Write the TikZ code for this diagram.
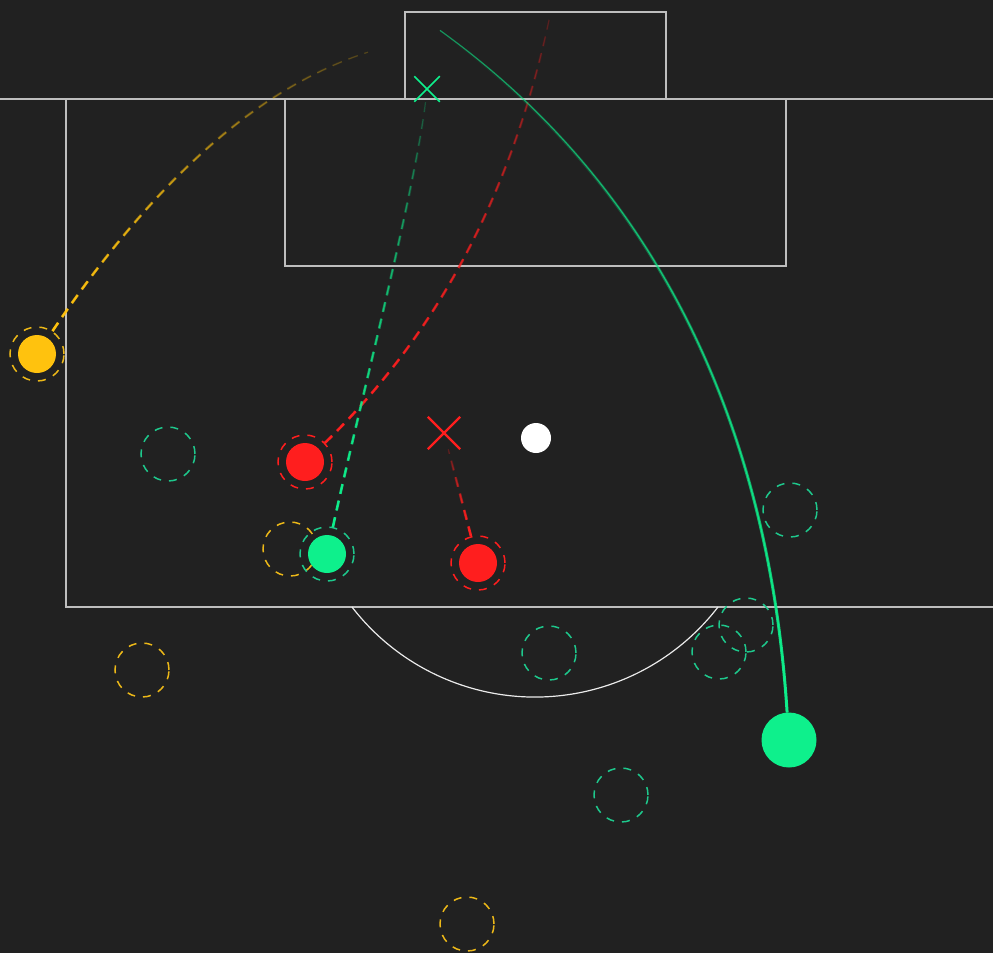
\documentclass[tikz,border=0pt]{standalone}
\usepackage{xcolor}
\usetikzlibrary{shapes.misc,fadings}
\definecolor{pitchbg}{RGB}{33,33,33}
\definecolor{pitchln}{RGB}{190,190,190}
\definecolor{grnc}{RGB}{14,240,140}
\definecolor{grnring}{RGB}{30,200,140}
\definecolor{redc}{RGB}{255,30,30}
\definecolor{ylwc}{RGB}{255,194,14}
\definecolor{ylwring}{RGB}{236,184,24}
\tikzfading[name=trailfade, top color=transparent!78,
  middle color=transparent!10, bottom color=transparent!0]
\tikzfading[name=taperfade, top color=transparent!100,
  middle color=transparent!45, bottom color=transparent!0]
\tikzfading[name=shotfade, top color=transparent!45,
  middle color=transparent!5, bottom color=transparent!0]
\tikzset{
  pitch/.style  ={draw=pitchln, line width=1.5pt},
  player/.style ={circle, inner sep=0pt, minimum size=38pt},
  ring/.style   ={circle, draw, inner sep=0pt, minimum size=54pt,
                  line width=1.5pt, dash pattern=on 8pt off 8pt},
  xmark/.style  ={cross out, draw, inner sep=0pt, minimum size=30pt,
                  line width=2.4pt},
  trail/.style  ={draw, line width=1.2pt, dash pattern=on 10pt off 7pt,
                  path fading=trailfade,
                  postaction={draw, line width=2.6pt, path fading=taperfade}},
  shot/.style   ={draw, line width=1.2pt, path fading=shotfade,
                  postaction={draw, line width=3pt, path fading=taperfade}},
}

\begin{document}
\begin{tikzpicture}[x=1pt, y=-1pt]
\useasboundingbox (0,0) rectangle (993,953);
\fill[pitchbg] (0,0) rectangle (993,953);

% --- pitch markings --------------------------------------------------
\draw[pitch] (0,99) -- (993,99);
\draw[pitch] (405,99) -- (405,12) -- (666,12) -- (666,99);
\draw[pitch] (285,99) -- (285,266) -- (786,266) -- (786,99);
\draw[pitch] (66,99) -- (66,607) -- (993,607);
\draw[draw=white!92!black, line width=1.2pt]
  (352,607) arc[start angle=217.6, end angle=322.4, radius=231pt];

% --- ghost positions -------------------------------------------------
\node[ring, draw=grnring] (gh1) at (168,454) {};
\node[ring, draw=grnring] (gh2) at (790,510) {};
\node[ring, draw=grnring] (gh3) at (746,625) {};
\node[ring, draw=grnring] (gh4) at (719,652) {};
\node[ring, draw=grnring] (gh5) at (549,653) {};
\node[ring, draw=grnring] (gh6) at (621,795) {};
\node[ring, draw=ylwring] (gh7) at (290,549) {};
\node[ring, draw=ylwring] (gh8) at (142,670) {};
\node[ring, draw=ylwring] (gh9) at (467,924) {};

% --- players and marks -----------------------------------------------
\node[ring, draw=ylwring] (y1o) at (37,354)  {};
\node[ring, draw=redc]    (r1o) at (305,462) {};
\node[ring, draw=grnring] (g1o) at (327,554) {};
\node[ring, draw=redc]    (r2o) at (478,563) {};
\node[player, fill=ylwc]  (y1)  at (37,354)  {};
\node[player, fill=redc]  (r1)  at (305,462) {};
\node[player, fill=grnc]  (g1)  at (327,554) {};
\node[player, fill=redc]  (r2)  at (478,563) {};
\node[player, fill=grnc, minimum size=55pt] (g2) at (789,740) {};
\node[circle, fill=white, inner sep=0pt, minimum size=30pt] (ball) at (536,438) {};
\node[xmark, draw=redc] (xr) at (444,433) {};
\node[xmark, draw=grnc, minimum size=24pt, line width=1.5pt] (xg) at (427,89) {};
\coordinate (yend) at (368,52);
\coordinate (rend) at (550,15);
\coordinate (gend) at (440,30);

% --- runs and the cross ----------------------------------------------
\draw[trail, ylwc] (y1o) .. controls (154,181) and (257,88) .. (yend);
\draw[trail, redc] (r1o) .. controls (438,333) and (513,191) .. (rend);
\draw[trail, grnc] (g1o) .. controls (356,420) and (415,190) .. (xg);
\draw[trail, redc] (r2o) -- (xr);
\draw[shot, grnc] (g2) .. controls (768,410) and (647,179) .. (gend);
\end{tikzpicture}
\end{document}
